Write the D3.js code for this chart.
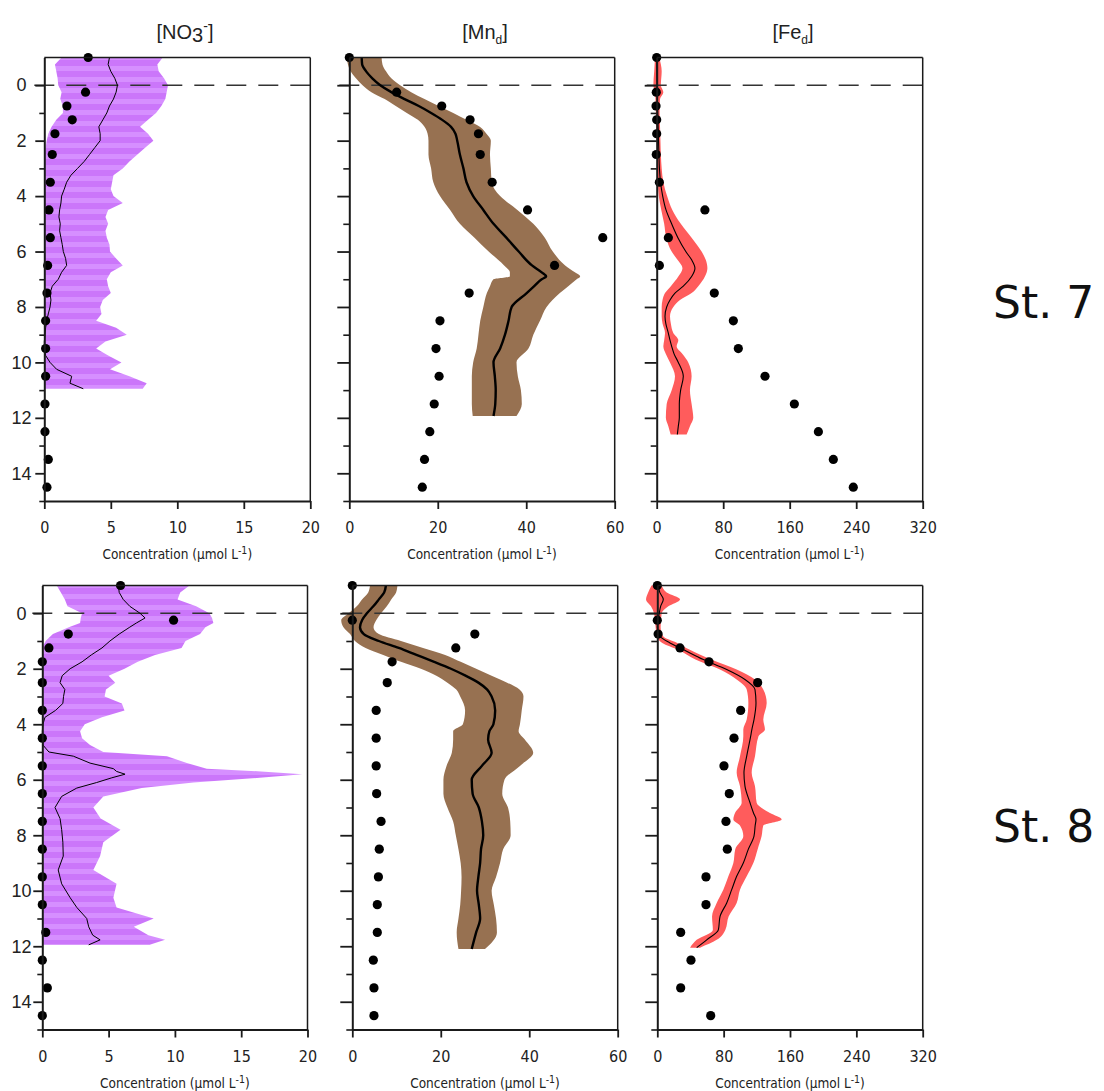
<!DOCTYPE html>
<html><head><meta charset="utf-8">
<script src="https://cdn.jsdelivr.net/npm/d3@7"></script>
<style>body{margin:0;background:#fff} svg{display:block}</style>
</head><body>
<svg id="c" width="1104" height="1091"></svg>
<script>
// ---------------- DATA ----------------
const panelTitles = ["NO3", "Mn", "Fe"];
const stationLabels = ["St. 7", "St. 8"];
const depthMajorTicks = [0, 2, 4, 6, 8, 10, 12, 14];
const depthMinorTicks = [1, 3, 5, 7, 9, 11, 13, 15];
const no3Ticks = [0, 5, 10, 15, 20];
const mnTicks = [0, 20, 40, 60];
const feTicks = [0, 80, 160, 240, 320];

// discrete porewater samples (depth, cm)
const pointDepths = [-1, 0.25, 0.75, 1.25, 1.75, 2.5, 3.5, 4.5, 5.5, 6.5, 7.5, 8.5, 9.5, 10.5, 11.5, 12.5, 13.5, 14.5];
const no3St7Points = [3.3, 3.1, 1.7, 2.1, 0.8, 0.6, 0.45, 0.35, 0.45, 0.25, 0.2, 0.1, 0.1, 0.1, 0.05, 0.05, 0.3, 0.2];
const mnSt7Points = [0, 10.7, 20.9, 27.3, 29.2, 29.6, 32.3, 40.3, 57.3, 46.4, 27.1, 20.5, 19.6, 20.3, 19.2, 18.2, 17.0, 16.5];
const feSt7Points = [0, -0.5, -0.8, 0, 0, -0.5, 3.2, 58, 14, 3.2, 69.3, 92.2, 98.2, 130.3, 165.6, 194.5, 212.5, 236.5];
const no3St8Points = [5.9, 9.9, 1.96, 0.5, 0, 0, 0, 0, 0, 0, 0, 0, 0, 0, 0.26, 0, 0.38, 0];
const mnSt8Points = [0, 0, 27.7, 23.4, 9.0, 7.9, 5.4, 5.4, 5.4, 5.5, 6.5, 6.1, 5.9, 5.65, 5.65, 4.75, 4.9, 4.9];
const feSt8Points = [0, 0, 1, 27.4, 62.3, 121, 100.5, 92.5, 80.4, 86.8, 82.8, 84.4, 58.7, 58.7, 28.2, 40.6, 28.2, 64.4];

// microsensor / model profiles: depth, lower bound, mean, upper bound
const no3St7Depth = [-1,-0.75,-0.5,-0.25,0,0.25,0.5,0.75,1,1.25,1.5,1.75,2,2.25,2.5,2.75,3,3.25,3.5,3.75,4,4.25,4.5,4.75,5,5.25,5.5,5.75,6,6.25,6.5,6.75,7,7.25,7.5,7.75,8,8.25,8.5,8.75,9,9.25,9.5,9.75,10,10.25,10.5,10.75,10.95];
const no3St7Mid = [4.9,4.8,5.0,5.3,5.5,5.4,5.2,4.9,4.7,4.4,4.1,4.2,4.2,3.8,3.4,3.0,2.5,2.0,1.68,1.5,1.3,1.25,1.15,1.1,1.2,1.15,1.25,1.35,1.43,1.6,1.68,1.3,1.05,0.6,0.43,0.5,0.43,0.3,0.18,0.1,0.05,0,0,0.1,0.43,0.93,2.06,1.93,2.93];
const no3St7Lo = [1.3,0.8,0.9,1.0,1.05,1.3,1.2,1.4,1.4,0.9,0.55,0.3,0.18,0.1,0.05,0,0,0,0,0,0,0,0,0,0,0,0,0,0,0,0,0,0,0,0,0,0,0,0,0,0,0,0,0,0,0,0,0,0];
const no3St7Hi = [8.9,8.5,8.6,9.0,9.3,9.2,9.1,8.8,8.4,7.8,7.2,7.8,8.2,7.6,7.0,6.4,5.9,5.2,5.1,5.0,5.2,5.9,4.8,4.6,4.8,4.6,4.7,4.9,4.94,5.4,5.9,5.0,4.7,4.8,5.0,4.4,4.2,4.3,3.9,5.4,6.2,4.6,3.9,4.8,5.8,4.94,6.4,7.7,7.4];

const mnSt7Depth = [-1,-0.75,-0.5,-0.25,0,0.25,0.5,0.75,1,1.25,1.5,1.75,2,2.5,3,3.5,4,4.5,5,5.5,6,6.5,6.75,6.9,7,7.25,7.5,8,8.5,9,9.5,10,10.5,11,11.5,11.93];
const mnSt7Mid = [2.8,2.9,3.8,5.2,7.0,9.5,12.5,15.7,18.5,21.0,23.0,24.0,24.4,25.0,25.8,26.5,28.0,30.3,32.6,35.5,38.3,41.3,43.5,44.5,43.5,41.8,40.1,36.7,36.0,35.2,34.1,32.6,32.9,33.1,33.0,32.6];
const mnSt7Lo = [-0.6,-0.3,0.3,1.5,3.0,5.0,8.0,10.5,13.0,15.5,17.0,17.7,17.9,17.9,18.5,19.0,20.5,22.8,25.0,28.3,31.5,35.0,36.3,36.3,32.6,31.8,31.1,30.3,29.6,29.2,28.8,28.0,27.7,27.7,27.7,27.9];
const mnSt7Hi = [7.3,7.5,8.3,9.5,11.5,14.0,17.0,20.2,23.5,26.5,29.5,31.0,32.0,31.8,32.0,32.2,34.1,38.0,41.6,44.2,46.0,48.8,51.0,52.2,51.4,49.5,47.6,44.6,43.1,41.6,40.5,37.8,38.1,38.8,39.0,37.8];

const feSt7Depth = [-1,-0.5,0,0.25,0.5,1,1.5,2,2.5,3,3.5,4,4.5,5,5.5,6,6.3,6.6,6.9,7.25,7.5,7.75,8,8.34,8.6,8.94,9.2,9.42,9.7,10,10.5,11,11.5,12,12.3,12.6];
const feSt7Mid = [0,0.2,0.5,0.6,0.8,1.2,1.7,2.2,2.7,3.3,4.6,7.2,11.2,18,25.5,35,42,46,42,32,22,16,12,10,11,14,16,18,21,26,32,28.8,27.2,27.2,26,24.8];
const feSt7Lo = [-2,-3,-4,-2,-1.5,-1,-0.5,0,0.5,1,1.5,2.5,5.5,9,11.5,18,25,31,26,17,10,7,6,6,7,10,9,8,11,16,22,18,12,11,14,16.8];
const feSt7Hi = [3,6,5,8,4,3.5,4,4.5,5,6,8,12.5,18.8,29,42,54,59,61,58,50,42,28,20,16,17,20,26,24,31,38,42,40,42,44,40,36];

const no3St8Depth = [-1,-0.75,-0.5,-0.25,0,0.17,0.35,0.5,0.75,1,1.25,1.5,1.75,2,2.25,2.5,2.75,3,3.25,3.5,3.75,4,4.25,4.5,4.75,5,5.15,5.4,5.6,5.7,5.8,5.93,6.1,6.3,6.6,7,7.4,7.8,8.25,8.75,9.25,9.75,10.25,10.6,11,11.3,11.6,11.77,11.95];
const no3St8Mid = [5.74,5.8,6.1,6.6,7.37,7.75,7.1,6.6,5.8,5.1,4.5,3.7,3.0,2.1,1.5,1.34,1.7,1.6,1.55,1.0,0.2,0.05,0,0,0.05,0.5,2.34,3.6,5.36,5.6,6.24,5.24,4.1,2.6,1.46,0.96,1.34,1.46,1.55,1.58,1.2,1.46,2.1,2.6,3.35,3.5,3.8,4.36,3.5];
const no3St8Lo = [1.09,1.4,1.7,1.9,3.0,2.9,2.85,2.0,0.8,0.25,0,0,0,0,0,0,0,0,0,0,0,0,0,0,0,0,0,0,0,0,0,0,0,0,0,0,0,0,0,0,0,0,0,0,0,0,0,0,0];
const no3St8Hi = [11.1,10.4,10.2,11.6,12.6,12.8,12.9,12.3,11.9,10.8,10.5,8.5,7.2,6.2,5.0,5.5,4.8,4.7,6.0,6.2,4.5,3.2,2.85,3.0,3.6,4.6,9.4,10.9,12.4,16.5,19.6,16.4,11.4,7.5,4.6,3.85,4.4,5.9,4.6,4.36,3.85,5.6,5.36,5.6,8.4,6.9,8.0,9.26,8.1];

const mnSt8Depth = [-1,-0.75,-0.5,-0.25,0,0.25,0.5,0.75,1,1.25,1.5,1.75,2,2.25,2.5,2.75,3,3.5,4,4.25,4.55,5.03,5.5,6,6.5,7,7.5,8,8.5,9,9.5,10,10.5,11,11.5,12.1];
const mnSt8Mid = [7.6,7.2,6.0,4.75,3.3,2.2,1.74,2.6,6.0,10.5,14.5,18.5,22.3,25.6,28.5,30.5,31.5,32.3,31.9,31.0,30.7,31.5,29.3,27.0,27.2,28.6,29.3,29.6,29.1,28.9,28.5,28.2,28.6,28.9,28.0,27.0];
const mnSt8Lo = [4.0,3.6,2.2,1.0,-0.8,-2.5,-2.0,-0.5,0.6,3.0,7.0,11.0,15.5,19.0,21.5,23.5,24.4,25.5,25.0,22.8,22.8,22.5,21.3,20.6,20.6,21.5,22.8,23.4,24.0,24.5,24.7,24.6,24.4,24.0,23.6,24.0];
const mnSt8Hi = [10.2,9.9,8.8,7.8,6.5,5.4,4.8,6.0,11.0,16.0,21.0,24.5,28.0,31.5,35.0,37.8,38.7,38.3,37.9,37.6,39.0,40.9,37.9,34.4,33.9,35.2,35.7,35.8,34.1,33.4,32.5,31.5,32.0,32.5,32.7,30.0];

const feSt8Depth = [-1,-0.75,-0.5,-0.25,0,0.5,0.83,1.07,1.31,1.67,2.03,2.39,2.75,3.23,3.83,4.19,4.43,5.15,5.75,6.23,6.83,7.2,7.43,7.65,8.03,8.5,9,9.48,9.96,10.44,10.93,11.41,11.77,12.05];
const feSt8Mid = [1.2,3,7.2,4,2.4,0,3.2,15.3,31.4,55.5,83.7,105.7,117.8,119,116.6,114,112.6,107.8,104.5,105.7,111.8,116,119,118,116.6,109.8,103.7,95.7,89.7,83.7,75.6,73.6,59.6,47.5];
const feSt8Lo = [-7,-11,-13.6,-7.6,-4,-2,-0.8,6,24.6,46,75.6,95.7,107.8,109.8,107.8,103.7,103.7,99.7,95.7,99.7,101.7,93.7,91.7,99.7,103.7,94,91.7,85.7,79.6,71.6,66,67,47.5,39.5];
const feSt8Hi = [5.3,11.3,27.4,13.3,5.3,4,7,24,38.6,65,95.7,117.8,127.8,131.9,127.8,129.8,122,117.8,113.8,117.8,119.8,135.9,149.9,127.8,125.8,121,115.8,107.8,99.7,95.7,86,82,71.6,51.5];

// ---------------- LAYOUT ----------------
const svg = d3.select("#c");
const defs = svg.append("defs");
const pat = defs.append("pattern").attr("id","purp").attr("patternUnits","userSpaceOnUse")
  .attr("width", 10).attr("height", 11);
pat.append("rect").attr("width",10).attr("height",11).attr("fill","#d68fff");
pat.append("rect").attr("y",5).attr("width",10).attr("height",6).attr("fill","#cb76fa");

const rows = [{y0: 57.5, y1: 501}, {y0: 585.5, y1: 1029.5}];
const colX = [
  [[44.3, 310.3], [349.3, 614.7], [656.7, 922.7]],
  [[42.3, 307.5], [352.3, 617.7], [657.3, 922.7]]
];
const xDomains = [[0, 20], [0, 60], [0, 320]];
const xTicks = [no3Ticks, mnTicks, feTicks];
const styles = [
  {fill: "url(#purp)", lw: 1, curve: d3.curveLinear},
  {fill: "#977151", lw: 2.4, curve: d3.curveMonotoneY},
  {fill: "#ff5c5c", lw: 1.1, curve: d3.curveMonotoneY}
];
const profiles = [
  [
    {depth: no3St7Depth, lo: no3St7Lo, mid: no3St7Mid, hi: no3St7Hi, pts: no3St7Points},
    {depth: mnSt7Depth, lo: mnSt7Lo, mid: mnSt7Mid, hi: mnSt7Hi, pts: mnSt7Points},
    {depth: feSt7Depth, lo: feSt7Lo, mid: feSt7Mid, hi: feSt7Hi, pts: feSt7Points}
  ],
  [
    {depth: no3St8Depth, lo: no3St8Lo, mid: no3St8Mid, hi: no3St8Hi, pts: no3St8Points},
    {depth: mnSt8Depth, lo: mnSt8Lo, mid: mnSt8Mid, hi: mnSt8Hi, pts: mnSt8Points},
    {depth: feSt8Depth, lo: feSt8Lo, mid: feSt8Mid, hi: feSt8Hi, pts: feSt8Points}
  ]
];

const AX = "#1a1a1a";
const tickFont = "'DejaVu Sans Condensed','DejaVu Sans',sans-serif";

function drawPanel(r, c) {
  const [xa, xb] = colX[r][c];
  const {y0, y1} = rows[r];
  const p = profiles[r][c];
  const st = styles[c];
  const x = d3.scaleLinear().domain(xDomains[c]).range([xa, xb]);
  const y = d3.scaleLinear().domain([-1, 15]).range([y0, y1]);
  const g = svg.append("g");
  const idx = d3.range(p.depth.length);

  const area = d3.area()
    .x0(i => x(p.lo[i])).x1(i => x(p.hi[i])).y(i => y(p.depth[i])).curve(st.curve);
  g.append("path").attr("d", area(idx)).attr("fill", st.fill);

  g.append("line").attr("x1", xa - 10).attr("x2", xb).attr("y1", y(0)).attr("y2", y(0))
    .attr("stroke", "#333").attr("stroke-width", 1.6).attr("stroke-dasharray", "20,12");

  const line = d3.line().x(i => x(p.mid[i])).y(i => y(p.depth[i])).curve(st.curve);
  g.append("path").attr("d", line(idx)).attr("fill", "none")
    .attr("stroke", "#000").attr("stroke-width", st.lw).attr("stroke-linejoin", "round");

  g.append("g").selectAll("circle").data(pointDepths).join("circle")
    .attr("cx", (d, i) => x(p.pts[i])).attr("cy", d => y(d)).attr("r", 4.6).attr("fill", "#000");

  // frame top/right
  g.append("line").attr("x1", xa).attr("x2", xb).attr("y1", y0).attr("y2", y0)
    .attr("stroke", AX).attr("stroke-width", 1.5);
  g.append("line").attr("x1", xb).attr("x2", xb).attr("y1", y0).attr("y2", y1)
    .attr("stroke", AX).attr("stroke-width", 1.5);

  // x axis
  const xa_ = g.append("g").attr("transform", `translate(0,${y1})`)
    .call(d3.axisBottom(x).tickValues(xTicks[c]).tickSize(8).tickSizeOuter(0).tickPadding(13));
  xa_.select(".domain").attr("stroke", AX).attr("stroke-width", 2);
  xa_.selectAll(".tick line").attr("stroke", AX).attr("stroke-width", 1.8);
  xa_.selectAll("text").attr("font-family", tickFont).attr("font-stretch", "condensed")
    .attr("font-size", 16).attr("fill", "#222");

  // y axis major
  const tl = c === 0 ? 9 : 12;
  const ya = g.append("g").attr("transform", `translate(${xa},0)`)
    .call(d3.axisLeft(y).tickValues(depthMajorTicks).tickSize(tl).tickSizeOuter(0)
      .tickFormat(c === 0 ? d3.format("d") : () => ""));
  ya.select(".domain").attr("stroke", AX).attr("stroke-width", 2);
  ya.selectAll(".tick line").attr("stroke", AX).attr("stroke-width", 1.8);
  ya.selectAll("text").attr("text-anchor", "middle").attr("x", 21.5 - xa)
    .attr("font-family", "'Liberation Sans',Arial,sans-serif").attr("font-size", 18).attr("fill", "#222");
  // y axis minor
  const ym = g.append("g").attr("transform", `translate(${xa},0)`)
    .call(d3.axisLeft(y).tickValues(depthMinorTicks).tickSize(c === 0 ? 5 : 6).tickFormat(() => ""));
  ym.select(".domain").remove();
  ym.selectAll(".tick line").attr("stroke", AX).attr("stroke-width", 1.6);

  // x title
  const t = g.append("text").attr("x", (xa + xb) / 2).attr("y", y1 + 58).attr("text-anchor", "middle")
    .attr("font-family", tickFont).attr("font-stretch", "condensed").attr("font-size", 13.5).attr("fill", "#222");
  t.append("tspan").text("Concentration (µmol L");
  t.append("tspan").attr("dy", -5).attr("font-size", 10.5).text("-1");
  t.append("tspan").attr("dy", 5).text(")");
}

for (let r = 0; r < 2; r++) for (let c = 0; c < 3; c++) drawPanel(r, c);

// column titles
const titleFont = "'Liberation Sans',Arial,sans-serif";
const tCenters = [185, 485, 793];
const t0 = svg.append("text").attr("x", tCenters[0]).attr("y", 39).attr("text-anchor", "middle")
  .attr("font-family", titleFont).attr("font-size", 20).attr("fill", "#222");
t0.append("tspan").text("[NO");
t0.append("tspan").attr("dy", 3).text("3");
t0.append("tspan").attr("dy", -11).attr("font-size", 14).text("-");
t0.append("tspan").attr("dy", 8).text("]");
[[1, "Mn"], [2, "Fe"]].forEach(([i, s]) => {
  const t = svg.append("text").attr("x", tCenters[i]).attr("y", 39).attr("text-anchor", "middle")
    .attr("font-family", titleFont).attr("font-size", 20).attr("fill", "#222");
  t.append("tspan").text("[" + s);
  t.append("tspan").attr("dy", 5).attr("font-size", 12).text("d");
  t.append("tspan").attr("dy", -5).text("]");
});

// station labels
svg.selectAll("text.st").data(stationLabels).join("text").attr("class", "st")
  .attr("x", 993).attr("y", (d, i) => [318, 842][i])
  .attr("font-family", "'DejaVu Sans',sans-serif").attr("font-size", 44).attr("fill", "#111")
  .text(d => d);
</script></body></html>
